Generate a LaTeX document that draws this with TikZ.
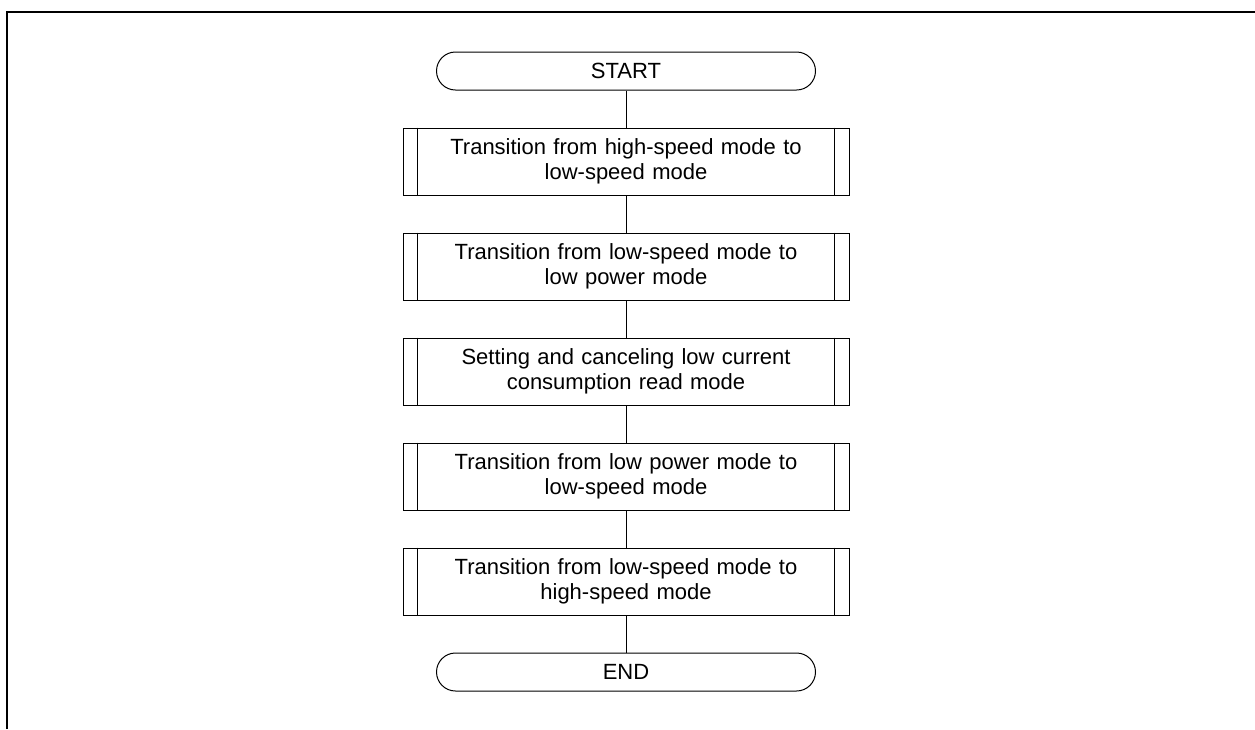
\documentclass[tikz,border=0pt]{standalone}
\usepackage{fontspec}
\setmainfont{Liberation Sans}
\usetikzlibrary{positioning}

\begin{document}
\begin{tikzpicture}[x=1pt, y=1pt,
    term/.style={draw, line width=1pt, rounded corners=19pt, minimum width=379pt, minimum height=38pt},
    proc/.style={draw, line width=1pt, minimum width=446pt, minimum height=67pt, text width=400pt, align=center},
    node distance=37pt, font=\fontsize{22}{25.5}\selectfont]
        \useasboundingbox (0,0) rectangle (1255,-729);
        \draw[line width=2.5pt] (7,-729) -- (7,-12) -- (1255,-12);
        \node[term] (start) at (626,-71) {START};
        \node[proc, below=of start] (p1) {Transition from high-speed mode to\\low-speed mode};
        \node[proc, below=of p1] (p2) {Transition from low-speed mode to\\low power mode};
        \node[proc, below=of p2] (p3) {Setting and canceling low current\\consumption read mode};
        \node[proc, below=of p3] (p4) {Transition from low power mode to\\low-speed mode};
        \node[proc, below=of p4] (p5) {Transition from low-speed mode to\\high-speed mode};
        \node[term, below=of p5] (end) {END};
        \foreach \n in {p1,p2,p3,p4,p5} {
           \draw[line width=1pt] ([xshift=15pt]\n.north west) -- ([xshift=15pt]\n.south west);
           \draw[line width=1pt] ([xshift=-15pt]\n.north east) -- ([xshift=-15pt]\n.south east);
        }
        \draw[line width=1pt] (start) -- (p1) -- (p2) -- (p3) -- (p4) -- (p5) -- (end);
      \end{tikzpicture}
\end{document}
